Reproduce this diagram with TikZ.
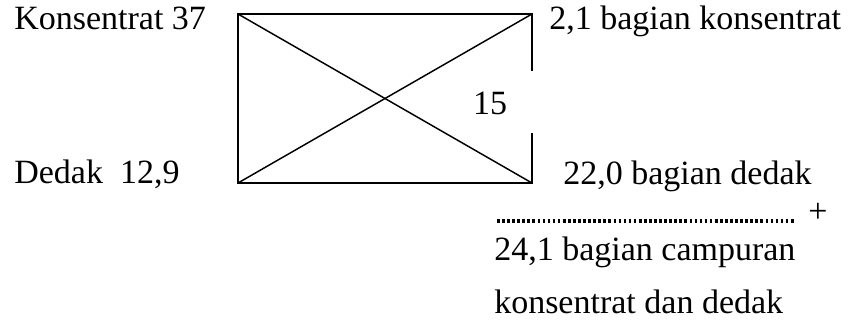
\documentclass[tikz,border=0pt]{standalone}
\usepackage{fontspec}
\setmainfont{Liberation Serif}
\begin{document}
\begin{tikzpicture}[x=0.75pt,y=-0.75pt,
  lbl/.style={anchor=base west,inner sep=0pt,font=\fontsize{25.5}{30}\selectfont},
  box/.style={line width=1.5pt},
  diag/.style={line width=1.1pt}]
\useasboundingbox (0,0) rectangle (850,321);
\coordinate (tl) at (238,14);
\coordinate (tr) at (532,14);
\coordinate (bl) at (238,183);
\coordinate (br) at (532,183);
\coordinate (gapT) at (532,71);
\coordinate (gapB) at (532,133);
\draw[box] (gapT) -- (tr) -- (tl) -- (bl) -- (br) -- (gapB);
\draw[diag] (tl) -- (br);
\draw[diag] (bl) -- (tr);
\node[lbl,anchor=center] (v15) at (490,103) {15};
\node[lbl] (k37) at (14,30) {Konsentrat 37};
\node[lbl] (d129) at (14,183) {Dedak\ \ 12,9};
\node[lbl] (k21) at (549,30) {2,1 bagian konsentrat};
\node[lbl] (d22) at (563,185) {22,0 bagian dedak};
\coordinate (dotL) at (497,221);
\coordinate (dotR) at (795,221);
\draw[line width=2.4pt,dash pattern=on 2pt off 1.8pt] (dotL) -- (dotR);
\node[lbl] (plus) at (808,222) {+};
\node[lbl] (c241) at (494,260) {24,1 bagian campuran};
\node[lbl] (kdd) at (494,313) {konsentrat dan dedak};
\end{tikzpicture}
\end{document}
